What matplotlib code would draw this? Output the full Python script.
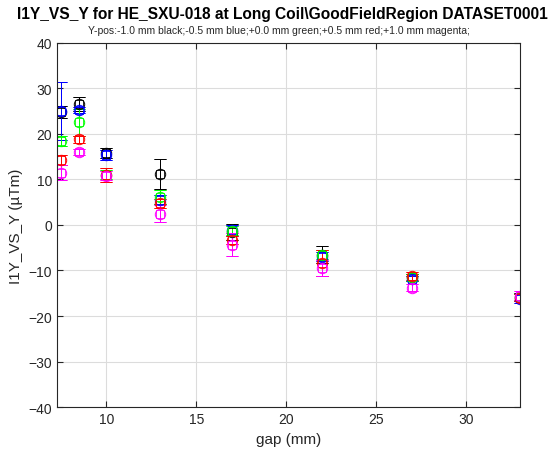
import matplotlib
matplotlib.use('Agg')
import matplotlib.pyplot as plt

gap = [7.5, 8.5, 10, 13, 17, 22, 27, 33]

# y-position series: value and error half-width
i1y_black = [24.8, 26.6, 15.8, 11.2, -1.5, -6.5, -11.5, -15.8]
err_black = [1.3, 1.6, 1.1, 3.2, 1.8, 1.8, 0.7, 0.8]
i1y_blue = [25.0, 25.2, 15.3, 5.5, -1.2, -7.0, -11.8, -16.2]
err_blue = [6.3, 0.6, 1.1, 1.0, 1.2, 1.0, 0.6, 1.0]
i1y_green = [18.4, 22.5, 11.0, 6.2, -1.3, -6.5, -11.5, -15.8]
err_green = [1.1, 3.0, 1.0, 1.5, 1.0, 1.0, 0.8, 0.7]
i1y_red = [14.3, 18.8, 11.0, 4.8, -3.3, -8.3, -11.2, -16.0]
err_red = [1.1, 0.8, 1.5, 1.0, 0.8, 2.8, 0.8, 0.8]
i1y_magenta = [11.5, 16.0, 10.8, 2.5, -4.3, -9.5, -13.8, -15.5]
err_magenta = [1.6, 0.7, 1.0, 1.8, 2.6, 1.8, 0.8, 0.9]

series = [
  (i1y_black, err_black, (0, 0, 0)),
  (i1y_blue, err_blue, (0, 0, 1)),
  (i1y_green, err_green, (0, 1, 0)),
  (i1y_red, err_red, (1, 0, 0)),
  (i1y_magenta, err_magenta, (1, 0, 1)),
]

plt.rcParams['font.family'] = ['Liberation Sans', 'DejaVu Sans']

fig = plt.figure(figsize=(5.58, 4.56), dpi=100)
ax = fig.add_axes([0.102, 0.105, 0.830, 0.799])

for vals, errs, col in series:
  ax.errorbar(gap, vals, yerr=errs, fmt='s', color=col, mfc='none', mec=col,
              ms=6, mew=0.6, elinewidth=0.7, capsize=4, capthick=0.7)
  ax.errorbar(gap, vals, yerr=errs, fmt='o', color=col, mfc='none', mec=col,
              ms=7.5, mew=0.7, elinewidth=0.7, capsize=4, capthick=0.7)

ax.set_xlim(7.25, 33)
ax.set_ylim(-40, 40)
ax.set_xticks([10, 15, 20, 25, 30])
ax.set_yticks(range(-40, 41, 10))
ax.grid(True, color='#dcdcdc', linewidth=0.8)
ax.set_axisbelow(True)
ax.tick_params(direction='in', labelsize=10, length=4, top=True, right=True,
               labeltop=False, labelright=False, color='#262626', labelcolor='#262626')
for s in ax.spines.values():
  s.set_color('#262626')
  s.set_linewidth(0.8)

ax.set_xlabel('gap (mm)', fontsize=11, color='#262626')
ax.set_ylabel('I1Y_VS_Y (\u00b5Tm)', fontsize=11, color='#262626')

fig.text(0.506, 0.968, 'I1Y_VS_Y for HE_SXU-018 at Long Coil\\GoodFieldRegion DATASET0001',
         ha='center', va='center', fontsize=11.2, fontweight='bold')
fig.text(0.5, 0.933, 'Y-pos:-1.0 mm black;-0.5 mm blue;+0.0 mm green;+0.5 mm red;+1.0 mm magenta;',
         ha='center', va='center', fontsize=7.5, color='#262626')

fig.savefig('out.png', dpi=100)
